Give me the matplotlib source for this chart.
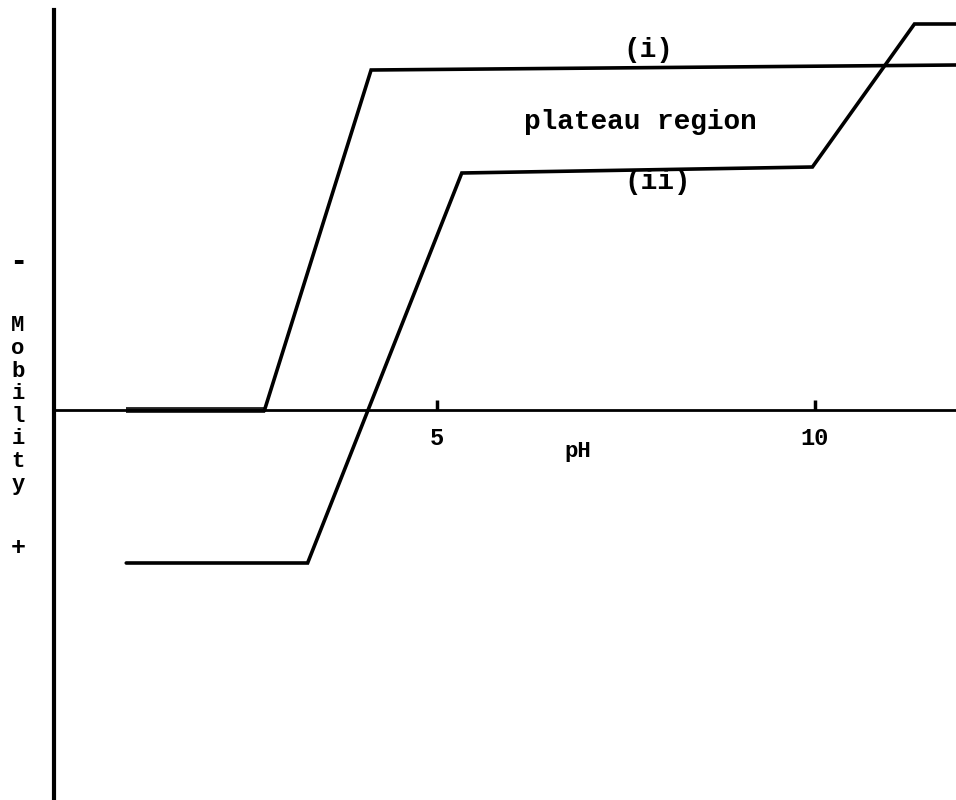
import matplotlib
matplotlib.use("Agg")
import matplotlib.pyplot as plt

# 曲线数据 (pH, 迁移率)
ph_i = [0.89, 2.72, 4.13, 11.87]
mob_i = [0.0, 0.0, 3.40, 3.45]

ph_ii = [0.89, 3.29, 5.33, 9.97, 11.32, 11.87]
mob_ii = [-1.53, -1.53, 2.37, 2.43, 3.86, 3.86]

x_ticks = [5, 10]
x_tick_labels = ["5", "10"]

FONT = ["Liberation Mono", "DejaVu Sans Mono"]

fig = plt.figure(figsize=(9.56, 8.0), dpi=100)
ax = fig.add_axes([54 / 956, 0.0, 1 - 54 / 956, 1.0])
ax.set_xlim(-0.066, 11.87)
ax.set_ylim(-3.90, 4.10)

# 坐标轴
for side in ("top", "right"):
    ax.spines[side].set_visible(False)
ax.spines["left"].set_linewidth(3.0)
ax.spines["left"].set_bounds(-3.90, 4.00)
ax.spines["bottom"].set_position(("data", 0))
ax.spines["bottom"].set_linewidth(2.0)

ax.set_yticks([])
ax.set_xticks(x_ticks)
ax.set_xticklabels(x_tick_labels, fontfamily=FONT, fontweight="bold", fontsize=17)
ax.tick_params(axis="x", direction="in", length=7, width=2.5, pad=12)

# 曲线 (i): 第一段较粗
ax.plot(ph_i[:2], mob_i[:2], color="#222222", lw=4.2, solid_capstyle="butt")
ax.plot(ph_i[1:], mob_i[1:], color="black", lw=2.6, solid_joinstyle="miter")
# 曲线 (ii)
ax.plot(ph_ii, mob_ii, color="black", lw=2.6, solid_joinstyle="miter",
        solid_capstyle="round")

txt = dict(fontfamily=FONT, fontweight="bold", ha="center", va="center")
ax.text(6.87, -0.41, "pH", fontsize=16, **txt)
ax.text(7.80, 3.60, "(i)", fontsize=20, **txt)
ax.text(7.92, 2.28, "(ii)", fontsize=20, **txt)
ax.text(7.70, 2.88, "plateau region", fontsize=20, **txt)

# 纵轴标签, 竖排
fig.text(18 / 956, 1 - 262 / 800, "-", fontsize=22, **txt)
fig.text(18 / 956, 1 - 405 / 800, "\n".join("Mobility"), fontsize=16,
         linespacing=1.10, **txt)
fig.text(18 / 956, 1 - 548 / 800, "+", fontsize=18, **txt)

fig.savefig("out.png", dpi=100, facecolor="white")
